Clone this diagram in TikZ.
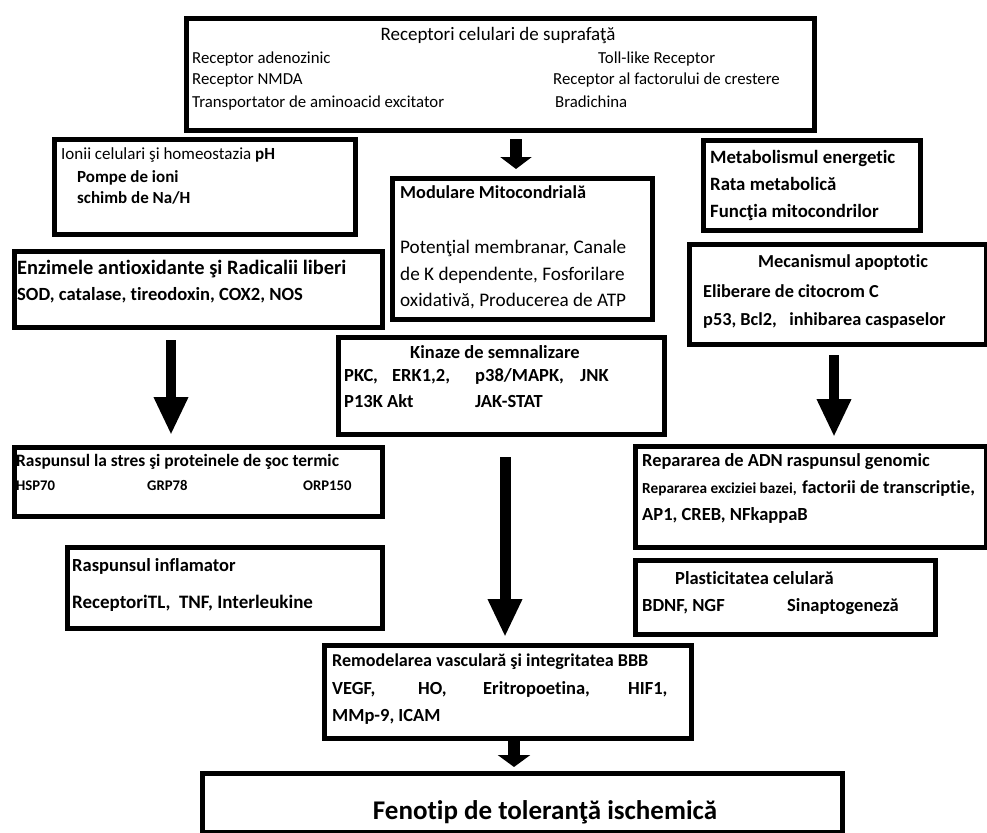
\documentclass[tikz,border=0pt]{standalone}
\usepackage{fontspec}
\setmainfont{Carlito}[Ligatures=NoCommon]
\usetikzlibrary{arrows.meta}
\def\fsz#1{\fontsize{#1}{#1}\selectfont}
\def\boxat(#1)(#2,#3)(#4,#5){\node[box, minimum width={#4-#2}, minimum height={#5-#3}] (#1) at (#2,#3) {};}

\begin{document}
\begin{tikzpicture}[x=1pt, y=-1pt,
		box/.style={draw, line width=5pt, inner sep=0pt, anchor=north west},
		txt/.style={anchor=base west, inner sep=0pt, font=\fsz{18.5}\bfseries},
		reg/.style={anchor=base west, inner sep=0pt, font=\fsz{16.8}},
		bigarrow/.style={line width=10pt, -{Triangle[width=32pt, length=38pt]}},
		smallarrow/.style={line width=12pt, -{Triangle[width=31pt, length=12pt]}}]
			%%%%% START %%%%%
			\useasboundingbox (0,0) rectangle (987,832);
			
			% receptori
			\boxat(recep)(184,16)(812,128)
			\node[reg, anchor=base, font=\fsz{19}] (recepT) at (498,41) {Receptori celulari de suprafaţă};
			\node[reg] (recepL1) at (192,64) {Receptor adenozinic};
			\node[reg] (recepL2) at (192,85) {Receptor NMDA};
			\node[reg] (recepL3) at (192,107) {Transportator de aminoacid excitator};
			\node[reg] (recepR1) at (598,64) {Toll-like Receptor};
			\node[reg] (recepR2) at (553,85) {Receptor al factorului de crestere};
			\node[reg] (recepR3) at (555,107) {Bradichina};
			
			% ionii
			\boxat(ioni)(52,137)(353,232)
			\node[reg, font=\fsz{17}] (ioniT) at (61,159) {Ionii celulari şi homeostazia \textbf{pH}};
			\node[txt, font=\fsz{17}\bfseries] (ioni1) at (77,182) {Pompe de ioni};
			\node[txt, font=\fsz{17}\bfseries] (ioni2) at (77,203) {schimb de Na/H};
			
			% mitocondrii
			\boxat(mito)(390,176)(650,317)
			\node[txt, font=\fsz{18.3}\bfseries] (mitoT) at (400,198) {Modulare Mitocondrială};
			\node[reg, font=\fsz{19.2}] (mito1) at (400,253) {Potenţial membranar, Canale};
			\node[reg, font=\fsz{19.2}] (mito2) at (400,280) {de K dependente, Fosforilare};
			\node[reg, font=\fsz{19.2}] (mito3) at (400,306) {oxidativă, Producerea de ATP};
			
			% metabolism
			\boxat(metab)(701,138)(918,228)
			\node[txt, font=\fsz{18.8}\bfseries] (metab1) at (710,163) {Metabolismul energetic};
			\node[txt, font=\fsz{18.8}\bfseries] (metab2) at (710,190) {Rata metabolică};
			\node[txt, font=\fsz{18.8}\bfseries] (metab3) at (710,217) {Funcţia mitocondrilor};
			
			% enzime
			\boxat(enz)(12,249)(380,325)
			\node[txt, font=\fsz{20.4}\bfseries] (enzT) at (17,274) {Enzimele antioxidante şi Radicalii liberi};
			\node[txt, font=\fsz{18.6}\bfseries] (enz1) at (17,300) {SOD, catalase, tireodoxin, COX2, NOS};
			
			% apoptoza
			\boxat(apop)(687,242)(984,342)
			\node[txt, font=\fsz{18.3}\bfseries] (apopT) at (758,267) {Mecanismul apoptotic};
			\node[txt, font=\fsz{18.3}\bfseries] (apop1) at (703,297) {Eliberare de citocrom C};
			\node[txt, font=\fsz{18.3}\bfseries] (apop2) at (703,325) {p53, Bcl2,\ \ \ inhibarea caspaselor};
			
			% kinaze
			\boxat(kin)(336,335)(662,432)
			\node[txt] (kinT) at (410,358) {Kinaze de semnalizare};
			\node[txt] (kin1) at (344,381) {PKC,};
			\node[txt] (kin2) at (392,381) {ERK1,2,};
			\node[txt] (kin3) at (475,381) {p38/MAPK,};
			\node[txt] (kin4) at (580,381) {JNK};
			\node[txt] (kin5) at (344,407) {P13K Akt};
			\node[txt] (kin6) at (475,407) {JAK-STAT};
			
			% stres
			\boxat(stres)(12,445)(380,514)
			\node[txt, font=\fsz{17.4}\bfseries] (stresT) at (16,466) {Raspunsul la stres şi proteinele de şoc termic};
			\node[txt, font=\fsz{14.7}\bfseries] (stres1) at (16,490) {HSP70};
			\node[txt, font=\fsz{14.7}\bfseries] (stres2) at (147,490) {GRP78};
			\node[txt, font=\fsz{14.7}\bfseries] (stres3) at (303,490) {ORP150};
			
			% ADN
			\boxat(adn)(633,444)(984,545)
			\node[txt, font=\fsz{18.4}\bfseries] (adnT) at (642,466) {Repararea de ADN raspunsul genomic};
			\node[txt, font=\fsz{15.3}\bfseries] (adn1) at (642,493) {Repararea exciziei bazei,};
			\node[txt, font=\fsz{18.3}\bfseries] (adn2) at (802,493) {factorii de transcriptie,};
			\node[txt] (adn3) at (642,520) {AP1, CREB, NFkappaB};
			
			% inflamator
			\boxat(infl)(65,545)(380,626)
			\node[txt] (inflT) at (72,571) {Raspunsul inflamator};
			\node[txt, font=\fsz{19}\bfseries] (infl1) at (72,608) {ReceptoriTL,\ \ TNF, Interleukine};
			
			% plasticitate
			\boxat(plast)(633,558)(933,632)
			\node[txt] (plastT) at (675,584) {Plasticitatea celulară};
			\node[txt] (plast1) at (642,611) {BDNF, NGF};
			\node[txt] (plast2) at (787,611) {Sinaptogeneză};
			
			% remodelare
			\boxat(remod)(322,643)(689,736)
			\node[txt, font=\fsz{18.1}\bfseries] (remodT) at (332,666) {Remodelarea vasculară şi integritatea BBB};
			\node[txt] (remod1) at (332,694) {VEGF,};
			\node[txt] (remod2) at (418,694) {HO,};
			\node[txt] (remod3) at (483,694) {Eritropoetina,};
			\node[txt] (remod4) at (628,694) {HIF1,};
			\node[txt] (remod5) at (332,721) {MMp-9, ICAM};
			
			% fenotip
			\boxat(fenot)(200,771)(840,830)
			\node[txt, anchor=base, font=\fsz{27}\bfseries] (fenotT) at (545,819) {Fenotip de toleranţă ischemică};
			
			% sageti
			\coordinate (a1s) at (516,139); \coordinate (a1e) at (516,169);
			\coordinate (a2s) at (171,340); \coordinate (a2e) at (171,435);
			\coordinate (a3s) at (834,355); \coordinate (a3e) at (834,437);
			\coordinate (a4s) at (505,457); \coordinate (a4e) at (505,637);
			\coordinate (a5s) at (514,737); \coordinate (a5e) at (514,767);
			\draw[smallarrow] (a1s) -- (a1e);
			\draw[bigarrow] (a2s) -- (a2e);
			\draw[bigarrow] (a3s) -- (a3e);
			\draw[bigarrow, line width=11pt] (a4s) -- (a4e);
			\draw[smallarrow, -{Triangle[width=32pt, length=12pt]}] (a5s) -- (a5e);
			%%%%% END %%%%%
\end{tikzpicture}
\end{document}
